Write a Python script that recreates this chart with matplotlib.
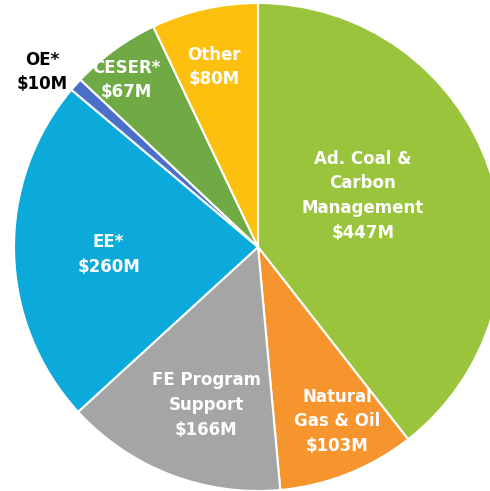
import matplotlib
matplotlib.use("Agg")
import matplotlib.pyplot as plt

# FE budget breakdown ($M), clockwise from the top
names = ["Ad. Coal &\nCarbon\nManagement", "Natural\nGas & Oil", "FE Program\nSupport",
         "EE*", "OE*", "CESER*", "Other"]
values = [447, 103, 166, 260, 10, 67, 80]
colors = ["#9AC43C", "#F6942E", "#A5A5A5", "#0BAADB", "#4A6FC9", "#6FAA45", "#FDC00E"]

# label anchor points (data units, radius = 1)
label_pos = [(0.43, 0.21), (0.324, -0.715), (-0.213, -0.648), (-0.612, -0.03),
             (-0.885, 0.717), (-0.54, 0.684), (-0.18, 0.738)]
label_color = ["white", "white", "white", "white", "black", "white", "white"]

fig = plt.figure(figsize=(4.9, 4.91), dpi=100)
ax = fig.add_axes([0, 0, 1, 1])
R = 244.0
cx, cy = 258.0, 247.0

ax.pie(values, colors=colors, startangle=90, counterclock=False, radius=1,
       wedgeprops=dict(edgecolor="white", linewidth=1.5))

for name, v, (x, y), c in zip(names, values, label_pos, label_color):
    ax.text(x, y, f"{name}\n${v}M", ha="center", va="center", color=c,
            fontsize=12, fontweight="bold", linespacing=1.48, family="DejaVu Sans")

ax.set_aspect("auto")
ax.set_xlim(-cx / R, (490 - cx) / R)
ax.set_ylim(-(491 - cy) / R, cy / R)
ax.axis("off")

fig.savefig("out.png", dpi=100)
